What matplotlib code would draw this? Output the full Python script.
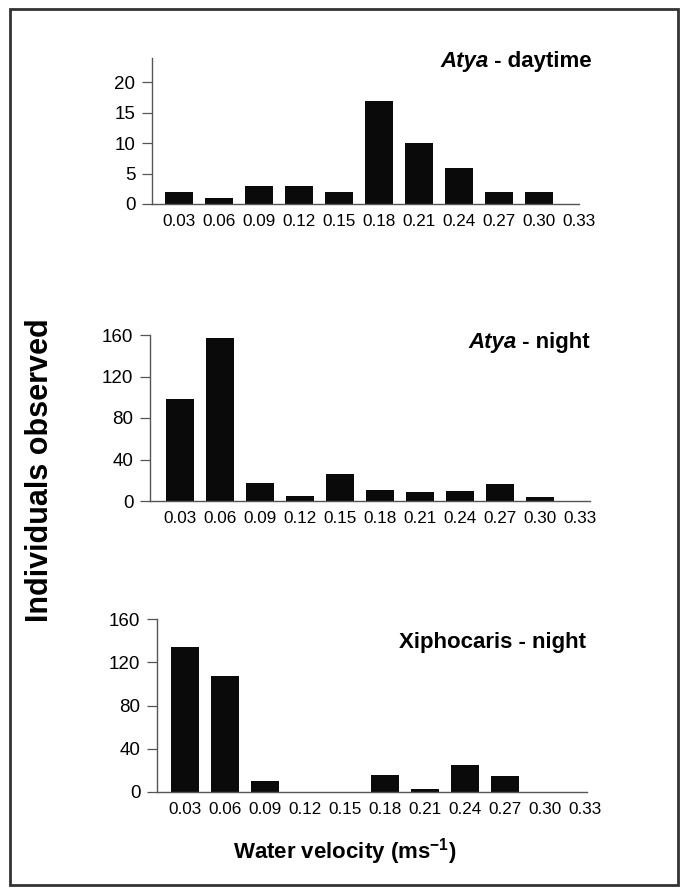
import numpy as np
import matplotlib.pyplot as plt
from matplotlib.patches import Rectangle

# water velocity classes (m/s)
velocity = ['0.03', '0.06', '0.09', '0.12', '0.15', '0.18', '0.21', '0.24', '0.27', '0.30', '0.33']
atya_day = [2, 1, 3, 3, 2, 17, 10, 6, 2, 2, 0]
atya_night = [98, 157, 17, 5, 26, 11, 9, 10, 16, 4, 0]
xipho_night = [134, 107, 10, 0, 0, 16, 3, 25, 15, 0, 0]

plt.rcParams['font.family'] = ['Liberation Sans', 'DejaVu Sans']
plt.rcParams['mathtext.default'] = 'regular'

W, H = 685, 892
fig = plt.figure(figsize=(W / 100, H / 100), dpi=100)


def px_axes(x0, x1, ytop, ybot):
    return fig.add_axes([x0 / W, 1 - ybot / H, (x1 - x0) / W, (ybot - ytop) / H])


panels = [
    # data, yticks, ylim top, axes box (px), xlim
    (atya_day, [0, 5, 10, 15, 20], 24, (152, 579, 58, 204), (-0.675, 10)),
    (atya_night, [0, 40, 80, 120, 160], 160, (150, 590, 335, 501), (-0.75, 10.25)),
    (xipho_night, [0, 40, 80, 120, 160], 160, (157, 587, 619, 792), (-0.7, 10.05)),
]

idx = np.arange(len(velocity))
for vals, yt, ytop, box, xl in panels:
    ax = px_axes(*box)
    ax.bar(idx, vals, width=0.68, color='#0a0a0a')
    ax.set_xlim(*xl)
    ax.set_ylim(0, ytop)
    ax.set_yticks(yt)
    ax.set_xticks(idx)
    ax.set_xticklabels(velocity, fontsize=12.3)
    ax.tick_params(axis='x', length=0, pad=7)
    ax.tick_params(axis='y', length=7, width=0.9, color='#555555', pad=5, labelsize=13.5)
    for s in ['top', 'right']:
        ax.spines[s].set_visible(False)
    for s in ['left', 'bottom']:
        ax.spines[s].set_color('#555555')
        ax.spines[s].set_linewidth(1.0)

# panel titles, italic genus name for Atya
renderer = fig.canvas.get_renderer()


def title(x, y, italic, rest):
    t = fig.text(x / W, 1 - y / H, rest, ha='right', va='baseline',
                 fontsize=16, fontweight='bold')
    bb = t.get_window_extent(renderer)
    if italic:
        fig.text(bb.x0 / W, 1 - y / H, italic, ha='right', va='baseline',
                 fontsize=16, fontweight='bold', fontstyle='italic')


title(592, 67, 'Atya', ' - daytime')
title(590, 348, 'Atya', ' - night')
title(586, 648, None, 'Xiphocaris - night')

fig.text(40 / W, 1 - 470 / H, 'Individuals observed', rotation=90, ha='center', va='center',
         fontsize=22, fontweight='bold')
fig.text(345 / W, 1 - 852 / H, 'Water velocity (ms$^{-1}$)', ha='center', va='center',
         fontsize=16, fontweight='bold')

# outer frame
fig.patches.append(Rectangle((10 / W, 1 - 885 / H), 668 / W, 876 / H, transform=fig.transFigure,
                             fill=False, edgecolor='#333333', linewidth=2))

fig.savefig('out.png', dpi=100)
